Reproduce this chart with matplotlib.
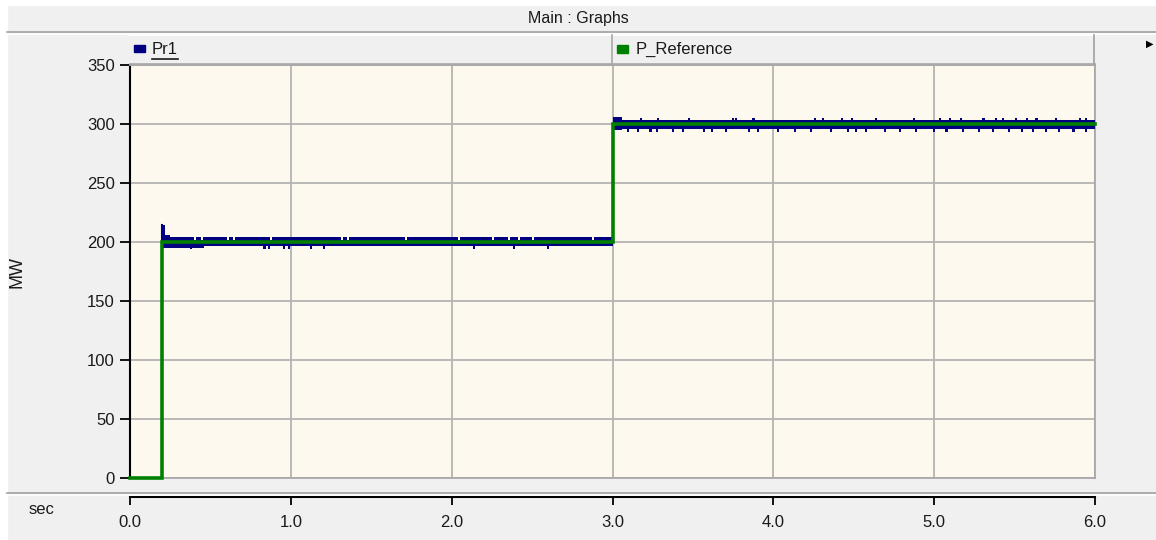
import matplotlib
matplotlib.use("Agg")
import matplotlib.pyplot as plt
from matplotlib.lines import Line2D
from matplotlib.patches import Rectangle

plt.rcParams['font.family'] = ['Liberation Sans', 'DejaVu Sans']

# reference power (green), stepped
ref_t = [0.0, 0.2, 0.2, 3.0, 3.0, 6.0]
ref_v = [0, 0, 200, 200, 300, 300]

# Pr1 (blue) read as a chattering band: normal upper / lower edge per level
lvl_start = [0.2, 3.0]
lvl_end = [3.0, 6.0]
lvl_hi = [204.0, 303.5]
lvl_lo = [196.5, 295.5]

# start-up transients (start, end, upper, lower)
trans_t0 = [0.200, 0.215, 0.25, 3.00]
trans_t1 = [0.215, 0.25, 0.46, 3.06]
trans_hi = [214.0, 206.0, 204.0, 306.0]
trans_lo = [195.0, 195.0, 194.5, 294.5]

# short notches in upper edge and dips in lower edge
notch_200 = [0.40, 0.44, 0.60, 0.64, 0.87, 1.31, 1.35, 1.71, 2.04, 2.25,
             2.35, 2.41, 2.50, 2.87]
dip_200 = [0.37, 0.83, 0.86, 0.95, 0.98, 1.12, 1.20, 2.13, 2.38, 2.59]
rise_300 = [3.17, 3.275, 3.47, 3.74, 3.76, 3.87, 4.25, 4.30, 4.42, 4.48,
            4.63, 4.87, 5.03, 5.09, 5.16, 5.30, 5.38, 5.42, 5.50, 5.57,
            5.63, 5.75, 5.90, 5.94]
dip_300 = [3.09, 3.15, 3.23, 3.27, 3.37, 3.43, 3.56, 3.61, 3.70, 3.84,
           3.90, 4.02, 4.13, 4.23, 4.35, 4.46, 4.51, 4.57, 4.69, 4.78,
           4.88, 4.99, 5.07, 5.17, 5.27, 5.36, 5.46, 5.54, 5.61, 5.69,
           5.77, 5.86, 5.94]
notch_hi_200 = 202.0
dip_lo_200 = 194.0
rise_hi_300 = 305.5
dip_lo_300 = 293.5
pulse_w = 0.013

yticks = [0, 50, 100, 150, 200, 250, 300, 350]
xticks = [0, 1, 2, 3, 4, 5, 6]
xlabels = ['0.0', '1.0', '2.0', '3.0', '4.0', '5.0', '6.0']

W, H = 1156, 540
fig = plt.figure(figsize=(W / 100, H / 100), dpi=100, facecolor='#f0f0f0')


def fx(x):
    return x / W


def fy(y):
    return 1 - y / H


# frame pieces (title bar, separators)
fig.patches.append(Rectangle((0, fy(5)), 1, 5 / H, transform=fig.transFigure,
                             color='white', zorder=0))
fig.patches.append(Rectangle((0, 0), fx(7), 1, transform=fig.transFigure,
                             color='white', zorder=0))
for y, c in [(32, '#a0a0a0'), (33.5, 'white'), (493, '#a0a0a0'), (494.5, 'white')]:
    fig.lines.append(Line2D([fx(7), 1], [fy(y), fy(y)], transform=fig.transFigure,
                            color=c, lw=1.2))
fig.text(fx(578), fy(18), 'Main : Graphs', ha='center', va='center',
         fontsize=11.5, color='#1a1a1a')
fig.text(fx(1150), fy(44), '\u25B6', ha='center', va='center', fontsize=7,
         color='black')

# legend bar
fig.lines.append(Line2D([fx(130), fx(1095)], [fy(35), fy(35)], transform=fig.transFigure,
                        color='white', lw=1.2))
fig.lines.append(Line2D([fx(130), fx(1095)], [fy(63.5), fy(63.5)], transform=fig.transFigure,
                        color='#a8a8a8', lw=1.2))
fig.lines.append(Line2D([fx(611.5), fx(611.5)], [fy(35), fy(64)], transform=fig.transFigure,
                        color='#a8a8a8', lw=1.2))
fig.lines.append(Line2D([fx(1094), fx(1094)], [fy(35), fy(64)], transform=fig.transFigure,
                        color='#a0a0a0', lw=1.2))
fig.patches.append(Rectangle((fx(134), fy(52)), 11 / W, 7 / H, transform=fig.transFigure,
                             color='#000080'))
fig.text(fx(152), fy(49), 'Pr1', ha='left', va='center', fontsize=12, color='#1a1a1a')
fig.lines.append(Line2D([fx(152), fx(178)], [fy(59), fy(59)], transform=fig.transFigure,
                        color='#1a1a1a', lw=1.2))
fig.patches.append(Rectangle((fx(617), fy(53)), 11 / W, 8 / H, transform=fig.transFigure,
                             color='#008000'))
fig.text(fx(636), fy(49), 'P_Reference', ha='left', va='center', fontsize=12,
         color='#1a1a1a')

# main plot
ax = fig.add_axes([fx(130), fy(478), (1095 - 130) / W, (478 - 65) / H])
ax.set_facecolor('#fdf9ef')


def envelope(pulses_hi, pulse_hi_val, pulses_lo, pulse_lo_val):
    # step-wise upper and lower edge of the blue band
    edges = sorted(set([0.0, 6.0] + lvl_start + lvl_end + trans_t0 + trans_t1
                       + pulses_hi + [p + pulse_w for p in pulses_hi]
                       + pulses_lo + [p + pulse_w for p in pulses_lo]))
    hi, lo = [], []
    for t in edges:
        h, l = 0.0, 0.0
        for s, e, vh, vl in zip(lvl_start, lvl_end, lvl_hi, lvl_lo):
            if s <= t < e:
                h, l = vh, vl
        for s, e, vh, vl in zip(trans_t0, trans_t1, trans_hi, trans_lo):
            if s <= t < e:
                h, l = vh, vl
        for p in pulses_hi:
            if p <= t < p + pulse_w:
                h = pulse_hi_val[0] if t < 3.0 else pulse_hi_val[1]
        for p in pulses_lo:
            if p <= t < p + pulse_w:
                l = pulse_lo_val[0] if t < 3.0 else pulse_lo_val[1]
        hi.append(h)
        lo.append(l)
    return edges, hi, lo


pr1_t, pr1_hi, pr1_lo = envelope(notch_200 + rise_300, (notch_hi_200, rise_hi_300),
                                 dip_200 + dip_300, (dip_lo_200, dip_lo_300))
ax.fill_between(pr1_t, pr1_lo, pr1_hi, step='post', color='#000080', lw=0, zorder=3)
ax.plot([0.2, 0.2], [200, 214], color='#000080', lw=1.5, zorder=3)
ax.plot(ref_t, ref_v, color='#008000', lw=2.6, zorder=4, solid_joinstyle='miter',
        clip_on=False)

ax.set_xlim(0, 6)
ax.set_ylim(0, 350)
ax.set_xticks(xticks)
ax.set_yticks(yticks)
ax.grid(True, color='#b4b4b4', lw=1.3, zorder=1)
ax.tick_params(axis='x', length=0, labelbottom=False)
ax.tick_params(axis='y', length=7, width=1.3, color='black', labelsize=12,
               labelcolor='#1a1a1a', pad=4)
ax.spines['left'].set_color('black')
ax.spines['left'].set_linewidth(1.5)
for s in ['top', 'right', 'bottom']:
    ax.spines[s].set_color('#a8a8a8')
    ax.spines[s].set_linewidth(1.3)
ax.set_ylabel('MW', fontsize=13, color='#1a1a1a', labelpad=44)

# separate time axis strip
ax2 = fig.add_axes([fx(130), fy(497), (1095 - 130) / W, 0.0001])
ax2.set_facecolor('none')
ax2.set_xlim(0, 6)
ax2.set_yticks([])
ax2.set_xticks(xticks)
ax2.set_xticklabels(xlabels)
for s in ['top', 'left', 'right']:
    ax2.spines[s].set_visible(False)
ax2.spines['bottom'].set_color('black')
ax2.spines['bottom'].set_linewidth(1.5)
ax2.tick_params(axis='x', length=6, width=1.3, color='black', labelsize=12,
                labelcolor='#1a1a1a', pad=7)
fig.text(fx(42), fy(510), 'sec', ha='center', va='center', fontsize=12, color='#1a1a1a')

fig.savefig('out.png', dpi=100, facecolor=fig.get_facecolor())
